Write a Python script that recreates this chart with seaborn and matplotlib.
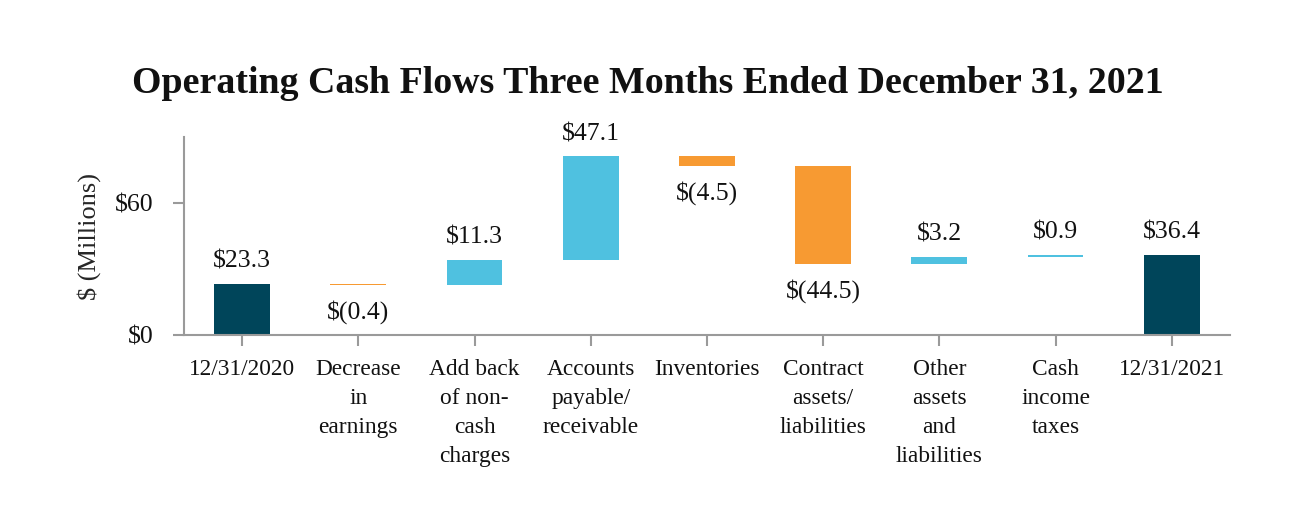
import matplotlib
matplotlib.use("Agg")
import matplotlib.pyplot as plt
import seaborn as sns
import numpy as np
import pandas as pd

categories = ["12/31/2020", "Decrease\nin\nearnings", "Add back\nof non-\ncash\ncharges",
              "Accounts\npayable/\nreceivable", "Inventories", "Contract\nassets/\nliabilities",
              "Other\nassets\nand\nliabilities", "Cash\nincome\ntaxes", "12/31/2021"]
values = [23.3, -0.4, 11.3, 47.1, -4.5, -44.5, 3.2, 0.9, 36.4]
kinds = ["total", "delta", "delta", "delta", "delta", "delta", "delta", "delta", "total"]
value_labels = ["$23.3", "$(0.4)", "$11.3", "$47.1", "$(4.5)", "$(44.5)", "$3.2", "$0.9", "$36.4"]
y_ticks = [0, 60]
y_tick_labels = ["$0", "$60"]

DARK = "#00455A"
BLUE = "#4FC1E0"
ORANGE = "#F79A32"

# waterfall geometry from data
bottoms, heights, tops, colors = [], [], [], []
running = 0.0
for v, k in zip(values, kinds):
    if k == "total":
        b, h = 0.0, v
        running = v
        colors.append(DARK)
    else:
        if v >= 0:
            b, h = running, v
            colors.append(BLUE)
        else:
            b, h = running + v, -v
            colors.append(ORANGE)
        running += v
    bottoms.append(b)
    heights.append(h)
    tops.append(b + h)

df = pd.DataFrame({"cat": categories, "height": heights, "bottom": bottoms})

sns.set_theme(style="white")
plt.rcParams["font.family"] = ["Liberation Serif", "DejaVu Serif"]

fig = plt.figure(figsize=(12.96, 5.32), dpi=100)
ax = fig.add_axes([0.142, 0.370, 0.807, 0.3725])

sns.barplot(data=df, x="cat", y="height", bottom=df["bottom"].to_numpy(), ax=ax,
            width=0.48, color=DARK, errorbar=None, linewidth=0)
for p, c in zip(ax.patches, colors):
    p.set_facecolor(c)
    p.set_edgecolor("none")

for i, (v, k, lab) in enumerate(zip(values, kinds, value_labels)):
    if v >= 0:
        ax.annotate(lab, (i, tops[i]), xytext=(0, 8), textcoords="offset points",
                    ha="center", va="bottom", fontsize=18.5, color="#111111")
    else:
        ax.annotate(lab, (i, bottoms[i]), xytext=(0, -11), textcoords="offset points",
                    ha="center", va="top", fontsize=18.5, color="#111111")

ax.set_xlim(-0.5, len(categories) - 0.5)
ax.set_ylim(0, 90)
ax.set_yticks(y_ticks)
ax.set_yticklabels(y_tick_labels, fontsize=18.5)
ax.set_xticks(range(len(categories)))
ax.set_xticklabels(categories, fontsize=16.8, linespacing=1.5, va="top")
ax.set_xlabel("")
ax.set_ylabel("$ (Millions)", fontsize=19, labelpad=10)

for s in ["top", "right"]:
    ax.spines[s].set_visible(False)
for s in ["left", "bottom"]:
    ax.spines[s].set_color("#9a9a9a")
    ax.spines[s].set_linewidth(1.5)
ax.tick_params(axis="both", which="both", direction="out", length=8, width=1.5,
               color="#9a9a9a", labelcolor="#111111", bottom=True, left=True)
ax.tick_params(axis="x", pad=9)
ax.tick_params(axis="y", pad=14)

fig.text(0.5, 0.843, "Operating Cash Flows Three Months Ended December 31, 2021",
         ha="center", va="center", fontsize=27.3, fontweight="bold", color="#111111")

fig.savefig("out.png", dpi=100, facecolor="white")
